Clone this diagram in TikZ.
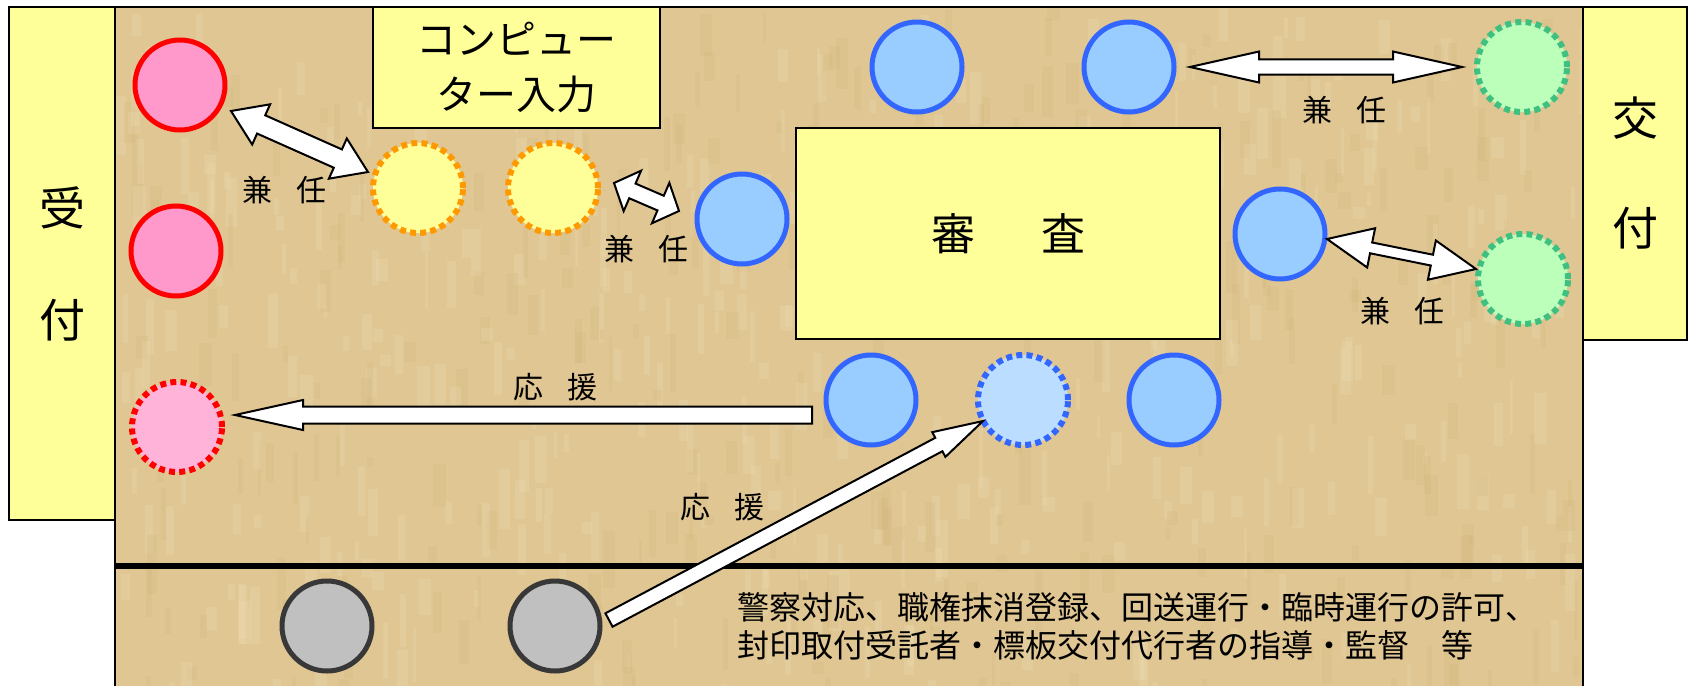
\documentclass[tikz,border=0pt]{standalone}
\usepackage{fontspec}
\newfontfamily\jp{Noto Sans CJK JP}
\usetikzlibrary{calc}
\definecolor{parch}{RGB}{224,198,146}
\definecolor{parchlight}{RGB}{236,218,176}
\definecolor{parchdark}{RGB}{206,178,120}
\definecolor{boxyellow}{RGB}{255,255,153}
\definecolor{pinkfill}{RGB}{255,153,204}
\definecolor{pinklight}{RGB}{255,179,217}
\definecolor{bluefill}{RGB}{153,204,255}
\definecolor{bluelight}{RGB}{187,221,255}
\definecolor{blueline}{RGB}{51,102,255}
\definecolor{orangeline}{RGB}{255,153,0}
\definecolor{greenfill}{RGB}{187,255,187}
\definecolor{greenline}{RGB}{64,192,128}
\definecolor{grayfill}{RGB}{192,192,192}
\definecolor{grayline}{RGB}{56,56,56}

\newcommand{\arrgeom}[2]{%
  \path let \p1=(#1), \p2=(#2) in
    \pgfextra{\pgfmathsetmacro\tmpang{atan2(\y2-\y1,\x2-\x1)}%
              \pgfmathsetmacro\tmplen{veclen(\x2-\x1,\y2-\y1)}%
              \xdef\arrang{\tmpang}\xdef\arrlen{\tmplen}};}
% tip A, tip B, shaft half width, head half width, head length
\newcommand{\dblarrow}[5]{%
  \arrgeom{#1}{#2}%
  \draw[arrowshape, shift={(#1)}, rotate=\arrang]
    (0,0) -- (#5,#4) -- (#5,#3) -- (\arrlen-#5,#3) -- (\arrlen-#5,#4)
    -- (\arrlen,0) -- (\arrlen-#5,-#4) -- (\arrlen-#5,-#3) -- (#5,-#3)
    -- (#5,-#4) -- cycle;}
% tail, tip, shaft half width, head half width, head length
\newcommand{\onearrow}[5]{%
  \arrgeom{#1}{#2}%
  \draw[arrowshape, shift={(#1)}, rotate=\arrang]
    (0,#3) -- (\arrlen-#5,#3) -- (\arrlen-#5,#4) -- (\arrlen,0)
    -- (\arrlen-#5,-#4) -- (\arrlen-#5,-#3) -- (0,-#3) -- cycle;}

\begin{document}
\begin{tikzpicture}[x=1pt,y=-1pt,
  ybox/.style={draw=black, line width=1.6pt, fill=boxyellow, inner sep=0pt, align=center},
  seat/.style={circle, minimum size=90pt, inner sep=0pt, line width=5pt},
  dotseat/.style={circle, minimum size=90pt, inner sep=0pt, line width=6pt, dash pattern=on 6pt off 4.2pt},
  pinkseat/.style={seat, draw=red, fill=pinkfill},
  pinkdot/.style={dotseat, draw=red, fill=pinklight},
  orangedot/.style={dotseat, draw=orangeline, fill=boxyellow},
  blueseat/.style={seat, draw=blueline, fill=bluefill},
  bluedot/.style={dotseat, draw=blueline, fill=bluelight},
  greendot/.style={dotseat, draw=greenline, fill=greenfill},
  grayseat/.style={seat, draw=grayline, fill=grayfill},
  lbl/.style={font=\jp\fontsize{30}{36}\selectfont, inner sep=0pt},
  arrowshape/.style={draw=black, fill=white, line width=2pt, line join=miter}]

\fill[white] (0,0) rectangle (1693,685);
\useasboundingbox (0,0) rectangle (1693,685);

% parchment area
\fill[parch] (115,7) rectangle (1583,690);
\begin{scope}
  \clip (115,7) rectangle (1583,685);
  \pgfmathsetseed{7}
  \foreach \i in {1,...,700}{
    \pgfmathsetmacro\rx{115+1468*rnd}
    \pgfmathsetmacro\ry{7+680*rnd}
    \pgfmathsetmacro\rw{3+10*rnd}
    \pgfmathsetmacro\rh{10+50*rnd}
    \pgfmathsetmacro\rc{rnd}
    \ifdim\rc pt<0.55pt
      \fill[parchlight, opacity=0.3] (\rx,\ry) rectangle ++(\rw,\rh);
    \else
      \fill[parchdark, opacity=0.2] (\rx,\ry) rectangle ++(\rw,\rh);
    \fi
  }
\end{scope}
\draw[line width=1.6pt] (115,690) -- (115,7) -- (1583,7) -- (1583,690);
\draw[line width=6pt] (115,566) -- (1583,566);

% boxes
\node[ybox, minimum width=106pt, minimum height=513pt,
      font=\jp\fontsize{46}{112}\selectfont] (uke) at (62,263.5) {受\\付};
\node[ybox, minimum width=104pt, minimum height=333pt,
      font=\jp\fontsize{46}{110}\selectfont] (kofu) at (1635,173.5) {交\\付};
\node[ybox, minimum width=287pt, minimum height=121pt,
      font=\jp\fontsize{40}{55}\selectfont] (comp) at (516.5,67.5) {コンピュー\\ター入力};
\node[ybox, minimum width=424pt, minimum height=211pt,
      font=\jp\fontsize{44}{50}\selectfont] (shinsa) at (1008,233.5) {審\hspace{1.5em}査};

% seats
\node[pinkseat] (p1) at (180,85) {};
\node[pinkseat] (p2) at (176,251) {};
\node[pinkdot] (p3) at (177,427) {};
\node[orangedot] (o1) at (418,188) {};
\node[orangedot] (o2) at (553,188) {};
\node[blueseat] (bt1) at (917,67) {};
\node[blueseat] (bt2) at (1129,67) {};
\node[blueseat] (bl) at (742,219) {};
\node[blueseat] (br) at (1280,234) {};
\node[blueseat] (bb1) at (871,400) {};
\node[bluedot] (bb2) at (1023,400) {};
\node[blueseat] (bb3) at (1174,400) {};
\node[greendot] (g1) at (1522,67) {};
\node[greendot] (g2) at (1523,279) {};
\node[grayseat] (k1) at (327,626) {};
\node[grayseat] (k2) at (555,626) {};

% arrow end points
\coordinate (a1a) at (231,111);  \coordinate (a1b) at (368,172);
\coordinate (a2a) at (614,183);  \coordinate (a2b) at (679,211);
\coordinate (a3a) at (1190,67);  \coordinate (a3b) at (1462,67);
\coordinate (a4a) at (1327,239); \coordinate (a4b) at (1476,269);
\coordinate (a5a) at (812,415);  \coordinate (a5b) at (235,415);
\coordinate (a6a) at (609,620);  \coordinate (a6b) at (983,421);

\dblarrow{a1a}{a1b}{10}{22}{33}
\dblarrow{a2a}{a2b}{8}{22}{20}
\dblarrow{a3a}{a3b}{7.5}{15.5}{69}
\dblarrow{a4a}{a4b}{5.5}{20}{45}
\onearrow{a5a}{a5b}{8.5}{15}{68}
\onearrow{a6a}{a6b}{7.6}{14}{50}

% labels
\node[lbl] (l1) at (284,190) {兼\hspace{0.8em}任};
\node[lbl] (l2) at (646,249) {兼\hspace{0.8em}任};
\node[lbl] (l3) at (1344,110) {兼\hspace{0.8em}任};
\node[lbl] (l4) at (1402,311) {兼\hspace{0.8em}任};
\node[lbl] (l5) at (555,387) {応\hspace{0.8em}援};
\node[lbl] (l6) at (722,507) {応\hspace{0.8em}援};

\node[anchor=west, align=left, inner sep=0pt,
      font=\jp\fontsize{32}{38}\selectfont] (note) at (737,626)
  {警察対応、職権抹消登録、回送運行・臨時運行の許可、\\封印取付受託者・標板交付代行者の指導・監督　等};
\end{tikzpicture}
\end{document}
